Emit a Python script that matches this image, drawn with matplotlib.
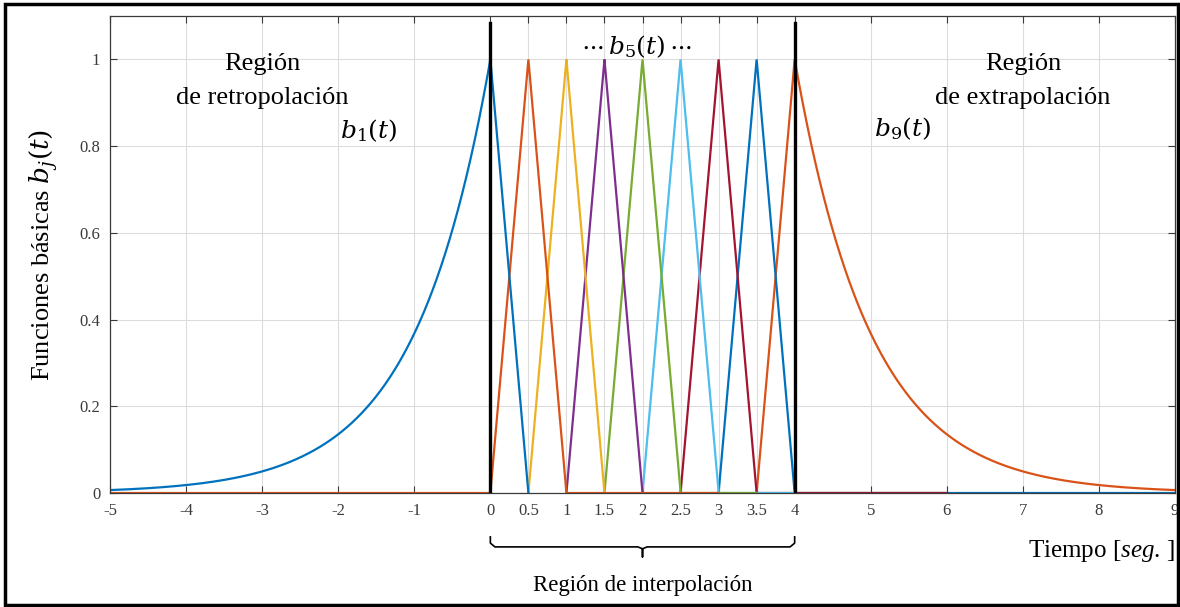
import numpy as np
import matplotlib
matplotlib.use("Agg")
import matplotlib.pyplot as plt
import matplotlib.transforms as mtransforms
from matplotlib.patches import Rectangle

plt.rcParams["font.family"] = ["Liberation Serif", "DejaVu Serif"]
plt.rcParams["mathtext.fontset"] = "custom"
plt.rcParams["mathtext.rm"] = "Liberation Serif"
plt.rcParams["mathtext.it"] = "Liberation Serif:italic"

# knots of the hat basis, extrapolation decay rate
knots = [0.0, 0.5, 1.0, 1.5, 2.0, 2.5, 3.0, 3.5, 4.0]
decay = 1.0
t_min, t_max = -5.0, 9.0
# interval over which each b_j is drawn (incl. its flat zero tails)
draw_from = [-5.0, -5.0, 0.5, 1.0, 1.5, 2.0, 2.5, 3.0, 3.5]
draw_to = [0.5, 3.0, 1.5, 2.0, 3.5, 4.0, 6.0, 9.0, 9.0]
colors = ["#0072BD", "#D95319", "#EDB120", "#7E2F8E", "#77AC30",
          "#4DBEEE", "#A2142F", "#0072BD", "#D95319"]

xticks = [-5, -4, -3, -2, -1, 0, 0.5, 1, 1.5, 2, 2.5, 3, 3.5, 4, 5, 6, 7, 8, 9]
xticklabels = ["-5", "-4", "-3", "-2", "-1", "0", "0.5", "1", "1.5", "2",
               "2.5", "3", "3.5", "4", "5", "6", "7", "8", "9"]
yticks = [0, 0.2, 0.4, 0.6, 0.8, 1.0]
yticklabels = ["0", "0.2", "0.4", "0.6", "0.8", "1"]


def basis(j, t):
    h = knots[1] - knots[0]
    tj = knots[j]
    hat = np.clip(1 - np.abs(t - tj) / h, 0, None)
    if j == 0:
        hat = np.where(t < tj, np.exp(decay * (t - tj)), hat)
    if j == len(knots) - 1:
        hat = np.where(t > tj, np.exp(-decay * (t - tj)), hat)
    return hat


fig = plt.figure(figsize=(11.8, 6.07), dpi=100)
ax = fig.add_axes([0.0932, 0.1878, 0.9026, 0.7858])

# drawn last-to-first so the zero tails stack like the original
for j in reversed(range(len(knots))):
    t = np.linspace(draw_from[j], draw_to[j], 1401)
    t = np.union1d(t, [k for k in knots if draw_from[j] <= k <= draw_to[j]])
    ax.plot(t, basis(j, t), color=colors[j], lw=1.6, solid_joinstyle="miter")

for k in (knots[0], knots[-1]):
    ax.plot([k, k], [0, 1.084], color="black", lw=2.4, zorder=5)

ax.set_xlim(t_min, t_max)
ax.set_ylim(0, 1.1)
ax.set_xticks(xticks)
ax.set_xticklabels(xticklabels)
ax.set_yticks(yticks)
ax.set_yticklabels(yticklabels)
ax.tick_params(direction="in", length=5, width=0.8, top=True, right=True,
               labelsize=12, labelcolor="#3a3a3a", color="#3a3a3a", pad=7)
ax.grid(True, color="#dcdcdc", lw=0.8)
ax.set_axisbelow(True)
for s in ax.spines.values():
    s.set_color("#3a3a3a")
    s.set_linewidth(0.9)

ax.set_ylabel(r"Funciones básicas $b_j(t)$", fontsize=19, labelpad=14,
              math_fontfamily="dejavuserif")

txt = dict(fontsize=19, ha="center", va="center")
mtxt = dict(fontsize=18, ha="center", va="center",
            math_fontfamily="dejavuserif")
ax.text(-3.0, 0.99, "Región", **txt)
ax.text(-3.0, 0.91, "de retropolación", **txt)
ax.text(-1.6, 0.835, r"$b_1(t)$", **mtxt)
ax.text(1.92, 1.03, r"$\cdots\,b_5(t)\,\cdots$", **mtxt)
ax.text(5.42, 0.84, r"$b_9(t)$", **mtxt)
ax.text(7.0, 0.99, "Región", **txt)
ax.text(7.0, 0.91, "de extrapolación", **txt)

# brace under the interpolation interval
bt = mtransforms.blended_transform_factory(ax.transData, ax.transAxes)
a, b = knots[0], knots[-1]
mid = 0.5 * (a + b)
y0, y1, y2 = -0.092, -0.113, -0.134
r = 0.06
brace_x = [a, a, a + r, mid - r, mid, mid, mid, mid + r, b - r, b, b]
brace_y = [y0, y1 + 0.008, y1, y1, y1 - 0.004, y2, y1 - 0.004, y1, y1,
           y1 + 0.008, y0]
ax.plot(brace_x, brace_y, color="black", lw=1.2, transform=bt,
        clip_on=False)
ax.text(mid, -0.193, "Región de interpolación", transform=bt, fontsize=16.5,
        ha="center", va="center")
ax.text(t_max, -0.122, r"Tiempo [$\mathit{seg.}\,$]", transform=bt,
        fontsize=18, ha="right", va="center")

fig.patches.append(Rectangle((0.004, 0.004), 0.994, 0.99, transform=fig.transFigure,
                             fill=False, edgecolor="black", lw=2.5))

fig.savefig("out.png", dpi=100, facecolor="white")
